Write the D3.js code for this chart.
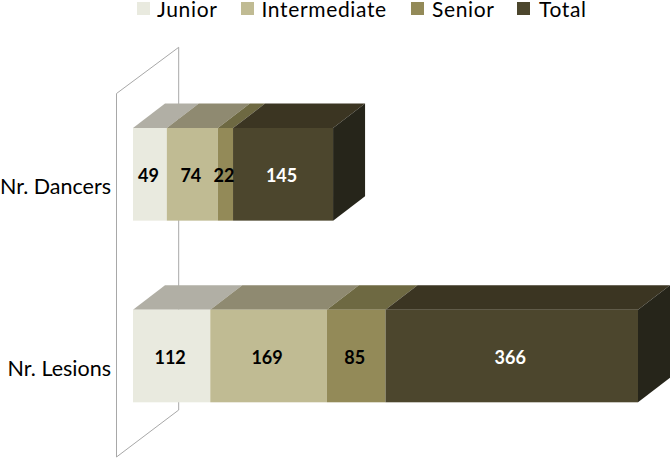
<!DOCTYPE html>
<html lang="en">
  <head>
    <meta charset="utf-8">
    <title>Nr. Dancers and Nr. Lesions</title>
    <script src="https://cdn.jsdelivr.net/npm/d3@7/dist/d3.min.js"></script>
    <style>
      html, body { margin: 0; padding: 0; background: #fff; }
      svg { display: block; }
      text { font-family: Lato, Carlito, sans-serif; }
    </style>
  </head>
  <body>
    <script type="text/javascript">
      // chart values
      var categories = ["Nr. Dancers", "Nr. Lesions"];
      var seriesNames = ["Junior", "Intermediate", "Senior", "Total"];
      var junior = [49, 112];
      var intermediate = [74, 169];
      var senior = [22, 85];
      var total = [145, 366];
      var seriesValues = [junior, intermediate, senior, total];

      // face colours per series
      var frontColors = ["#e9eadf", "#c0bb93", "#938a58", "#4c462d"];
      var topColors = ["#b1afa5", "#8f8a71", "#6e6942", "#3b3522"];
      var labelColors = ["#000", "#000", "#000", "#fff"];
      var sideColor = "#26251a";

      var width = 670, height = 458;
      var depthX = 32, depthY = 24.5;

      var svg = d3.select("body")
        .append("svg")
          .attr("width", width)
          .attr("height", height);

      var x = d3.scaleLinear().domain([0, 732]).range([133, 638]);
      var y = d3.scaleBand()
        .domain(categories)
        .range([128, 402.3])
        .paddingInner(0.49)
        .paddingOuter(0);

      // back wall of the category axis, sits behind the bars
      svg.append("path")
        .attr("d", "M116.5,457V93.5L178.7,47.3V410Z")
        .attr("fill", "none")
        .attr("stroke", "#a8a8a8")
        .attr("stroke-width", 1);

      // stack the series for each category
      var stacked = d3.stack()
        .keys(d3.range(seriesNames.length))
        .value(function (d, key) { return seriesValues[key][d]; })(d3.range(categories.length));

      stacked.forEach(function (layer, s) {
        layer.forEach(function (d, c) {
          var x0 = x(d[0]), x1 = x(d[1]);
          var top = y(categories[c]), bh = y.bandwidth();

          svg.append("polygon")
            .attr("points", [
              [x0, top], [x0 + depthX, top - depthY],
              [x1 + depthX, top - depthY], [x1, top]
            ].join(" "))
            .attr("fill", topColors[s]);

          svg.append("rect")
            .attr("x", x0)
            .attr("y", top)
            .attr("width", x1 - x0)
            .attr("height", bh)
            .attr("fill", frontColors[s]);

          // only the last segment shows its right side
          if (s === seriesNames.length - 1) {
            svg.append("polygon")
              .attr("points", [
                [x1, top], [x1 + depthX, top - depthY],
                [x1 + depthX, top + bh - depthY], [x1, top + bh]
              ].join(" "))
              .attr("fill", sideColor);
          }
        });
      });

      // value labels drawn last so that "22" can overlap the next segment
      stacked.forEach(function (layer, s) {
        layer.forEach(function (d, c) {
          svg.append("text")
            .attr("x", (x(d[0]) + x(d[1])) / 2 - 1.5)
            .attr("y", y(categories[c]) + y.bandwidth() / 2 + 1.5)
            .attr("dy", "0.35em")
            .attr("text-anchor", "middle")
            .style("font-size", "18px")
            .style("font-weight", "700")
            .style("fill", labelColors[s])
            .text(seriesValues[s][c]);
        });
      });

      // category labels
      svg.selectAll("text.cat")
        .data(categories)
        .enter()
        .append("text")
          .attr("class", "cat")
          .attr("x", 111)
          .attr("y", function (d) { return y(d) + y.bandwidth() / 2 + 20; })
          .attr("text-anchor", "end")
          .style("font-size", "21.5px")
          .style("fill", "#000")
          .text(function (d) { return d; });

      // legend
      var legendSwatchX = [137, 241, 411, 517];
      var legendTextX = [157, 261.5, 432, 539];
      seriesNames.forEach(function (name, i) {
        svg.append("rect")
          .attr("x", legendSwatchX[i])
          .attr("y", 2)
          .attr("width", 13)
          .attr("height", 13)
          .attr("fill", frontColors[i]);
        svg.append("text")
          .attr("x", legendTextX[i])
          .attr("y", 16.5)
          .style("font-size", "21px")
          .style("letter-spacing", "0.65px")
          .style("fill", "#000")
          .text(name);
      });
    </script>
  </body>
</html>
